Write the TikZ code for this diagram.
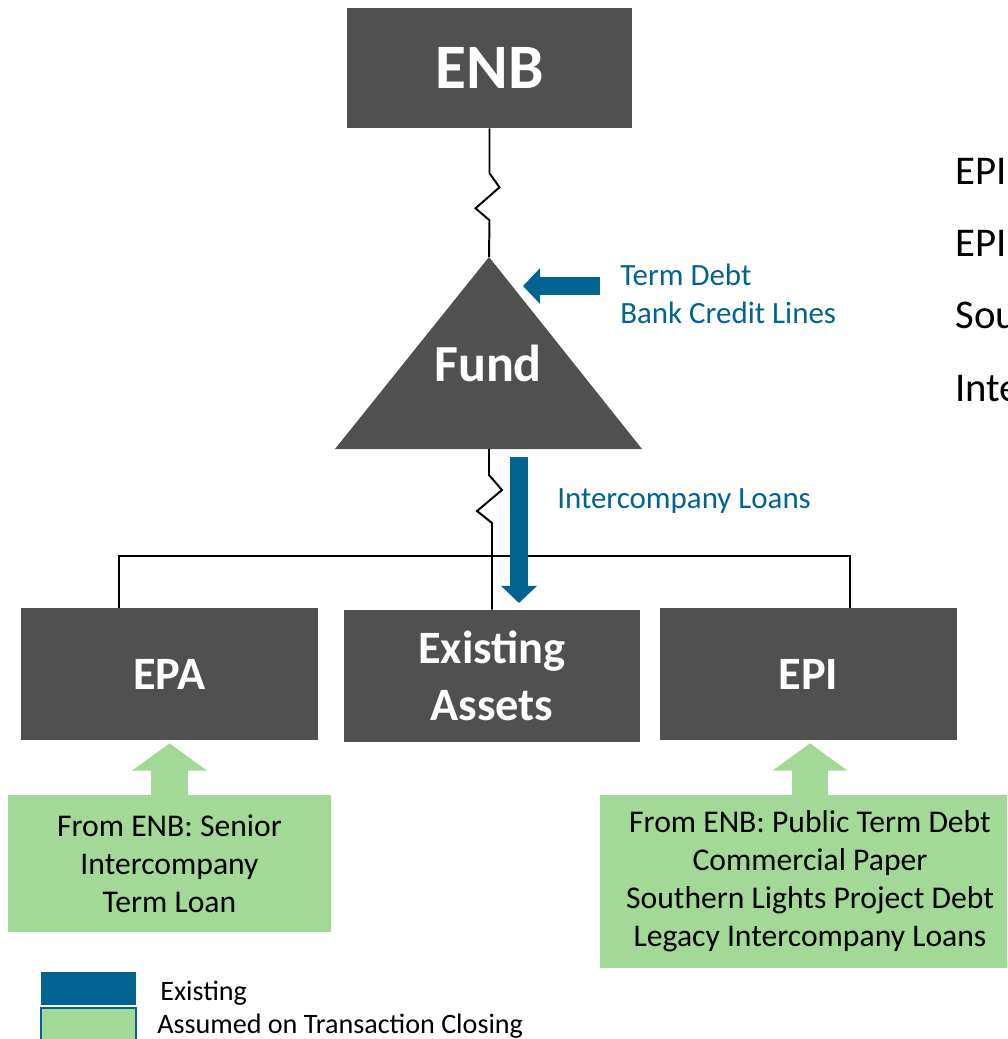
\documentclass[tikz,border=0pt]{standalone}
\usepackage{fontspec}
\setmainfont{Carlito}
\usepackage{tikz}
\usetikzlibrary{arrows.meta,positioning,calc}
\definecolor{boxgray}{RGB}{80,80,80}
\definecolor{debtblue}{RGB}{0,99,145}
\definecolor{newgreen}{RGB}{163,217,151}

\begin{document}
\begin{tikzpicture}[
    x=0.025cm, y=-0.025cm,
    entity/.style={rectangle, fill=boxgray, text=white, font=\fontsize{33}{40.5}\selectfont\bfseries, align=center, inner sep=0pt},
    note/.style={rectangle, fill=newgreen, text=black, font=\fontsize{22.5}{27}\selectfont, align=center, inner sep=0pt},
    bluetext/.style={text=debtblue, font=\fontsize{22}{27}\selectfont, align=left, anchor=west, inner sep=0pt},
    keytext/.style={font=\fontsize{20}{24}\selectfont, anchor=west, inner sep=0pt},
    sidetext/.style={font=\fontsize{29}{34}\selectfont, anchor=west, inner sep=0pt},
    keybox/.style={rectangle, minimum width=2.375cm, inner sep=0pt},
    link/.style={black, line width=1.4pt},
    bluearrow/.style={debtblue, line width=0.46cm, -{Triangle[length=0.43cm, width=0.88cm]}},
    greenarrow/.style={newgreen, line width=0.9cm, -{Triangle[length=0.68cm, width=1.83cm]}}
]
\useasboundingbox (0,0) rectangle (1007,1039);
\clip (0,0) rectangle (1007,1039);

% parent and fund
\node[entity, minimum width=7.125cm, minimum height=3cm, font=\fontsize{45}{54}\selectfont\bfseries] (enb) at (489.5,68) {ENB};
\fill[boxgray] (489,257) coordinate (fundtop) -- (642,449) -- (335,449) -- cycle;
\coordinate (fundbase) at (489,449);
\node[text=white, font=\fontsize{37}{44}\selectfont\bfseries, inner sep=0pt] (fund) at (488,363) {Fund};

% subsidiaries
\node[entity, minimum width=7.425cm, minimum height=3.3cm] (epa) at (169.5,674) {EPA};
\node[entity, minimum width=7.4cm, minimum height=3.3cm] (assets) at (492,676) {Existing\\Assets};
\node[entity, minimum width=7.425cm, minimum height=3.3cm] (epi) at (808.5,674) {EPI};

% ownership lines
\draw[link] (enb.south) -- ++(0,45) -- ++(10,14) -- ++(-24,21) -- ++(14,12) -- (fundtop);
\draw[link] (fundbase) -- ++(0,26) -- ++(13,15) -- ++(-25,21) -- ++(15,12) -- (assets.north);
\coordinate (busleft) at (119,556);
\coordinate (busright) at (850,556);
\draw[link] (epa.north -| busleft) -- (busleft) -- (busright) -- (epi.north -| busright);

% existing debt
\coordinate (debtfrom) at (600,286);
\coordinate (debtto) at (523,286);
\draw[bluearrow] (debtfrom) -- (debtto);
\node[bluetext] (termdebt) at (620,294) {Term Debt\\Bank Credit Lines};
\coordinate (loanfrom) at (519,457);
\coordinate (loanto) at (519,603);
\draw[bluearrow] (loanfrom) -- (loanto);
\node[bluetext] (icloans) at (557,501) {Intercompany Loans};

% debt assumed at closing
\node[note, minimum width=8.075cm, minimum height=3.425cm] (lnote) at (169.5,863.5) {From ENB: Senior\\Intercompany\\Term Loan};
\node[note, minimum width=10.5cm, minimum height=4.325cm] (rnote) at (810,881.5) {From ENB: Public Term Debt\\Commercial Paper\\Southern Lights Project Debt\\Legacy Intercompany Loans};
\draw[greenarrow] (lnote.north) -- ($(epa.south)+(0,3)$);
\draw[greenarrow] (rnote.north) -- ($(rnote.north |- epi.south)+(0,3)$);

% legend
\node[keybox, fill=debtblue, minimum height=0.825cm] (keyold) at (88.5,988.5) {};
\node[keybox, fill=newgreen, draw=debtblue, line width=1pt, minimum height=0.925cm] (keynew) at (88.5,1026.5) {};
\node[keytext] (keyoldtext) at (160,993) {Existing};
\node[keytext] (keynewtext) at (157,1026) {Assumed on Transaction Closing};

% list running off the right edge
\node[sidetext] (side1) at (955,171) {EPI};
\node[sidetext] (side2) at (955,243) {EPI};
\node[sidetext] (side3) at (955,315) {Sou};
\node[sidetext] (side4) at (955,389) {Inte};

\end{tikzpicture}
\end{document}
